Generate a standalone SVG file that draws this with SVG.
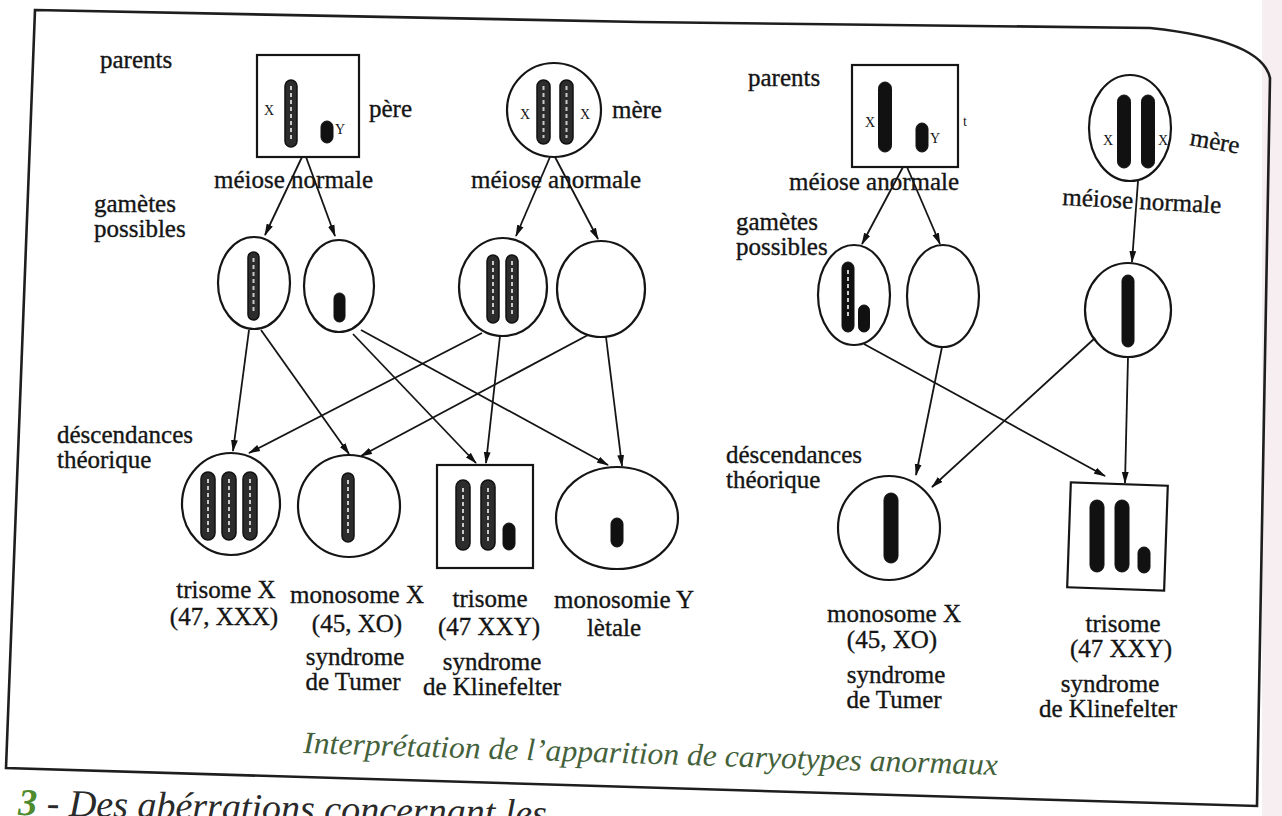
<svg xmlns="http://www.w3.org/2000/svg" width="1282" height="816" viewBox="0 0 1282 816">
  <defs>
    <style>
      .t { font-family: "Liberation Serif", "Times New Roman", serif; font-size: 25px; fill: #151515; stroke: #151515; stroke-width: 0.35; }
      .tm { text-anchor: middle; }
      .lbl { font-family: "Liberation Serif", serif; font-size: 14px; fill: #151515; text-anchor: middle; }
      .cell { fill: none; stroke: #151515; stroke-width: 2.2; }
      .chr { fill: #2c2c2c; stroke: #111; stroke-width: 1.5; }
      .chrS { fill: #111; stroke: #111; stroke-width: 1; }
      .band { stroke: #c9c9c9; stroke-width: 2; stroke-dasharray: 4 3; fill: none; }
      .link { stroke: #151515; stroke-width: 1.8; fill: none; marker-end: url(#ah); }
      .frame { fill: none; stroke: #1e1e1e; stroke-width: 2.6; }
      .caption { font-family: "Liberation Serif", serif; font-style: italic; font-size: 31px; fill: #43613a; }
    </style>
    <marker id="ah" viewBox="0 0 12 8" refX="11" refY="4" markerWidth="12" markerHeight="8" markerUnits="userSpaceOnUse" orient="auto">
      <path d="M0,0.6 L12,4 L0,7.4 z" fill="#111"/>
    </marker>
  </defs>

  <rect width="1282" height="816" fill="#ffffff"/>
  <rect x="1262" y="0" width="20" height="816" fill="#f6eef1"/>

  <!-- page frame -->
  <path class="frame" d="M35,10 L640,22 L1150,28 Q1262,40 1270,78 L1257,806 L6,768 Z"/>

  <!-- ===== left panel: abnormal meiosis in the mother ===== -->
  <text class="t" x="100" y="68">parents</text>
  <text class="t" x="94" y="212">gamètes</text>
  <text class="t" x="94" y="237">possibles</text>
  <text class="t" x="57" y="443">déscendances</text>
  <text class="t" x="57" y="468">théorique</text>

  <g id="pere-gauche">
    <rect class="cell" x="257" y="55" width="102" height="102"/>
    <rect class="chr" x="285" y="80" width="12" height="67" rx="6"/>
    <line class="band" x1="291" y1="86" x2="291" y2="141"/>
    <rect class="chrS" x="321" y="121" width="12" height="22" rx="6"/>
    <text class="lbl" x="269" y="115">X</text>
    <text class="lbl" x="340" y="134">Y</text>
    <text class="t" x="369" y="117">père</text>
  </g>

  <g id="mere-gauche">
    <circle class="cell" cx="554" cy="110" r="47"/>
    <rect class="chr" x="537" y="80" width="13" height="64" rx="6.5"/>
    <line class="band" x1="543.5" y1="86" x2="543.5" y2="138"/>
    <rect class="chr" x="560" y="80" width="13" height="64" rx="6.5"/>
    <line class="band" x1="566.5" y1="86" x2="566.5" y2="138"/>
    <text class="lbl" x="525" y="119">X</text>
    <text class="lbl" x="585" y="119">X</text>
    <text class="t" x="612" y="118">mère</text>
  </g>

  <text class="t" x="214" y="188">méiose normale</text>
  <text class="t" x="471" y="188">méiose anormale</text>

  <g id="gamete-x">
    <ellipse class="cell" cx="254" cy="283" rx="36" ry="46"/>
    <rect class="chr" x="248" y="252" width="11" height="68" rx="5.5"/>
    <line class="band" x1="253.5" y1="258" x2="253.5" y2="314"/>
  </g>
  <g id="gamete-y">
    <ellipse class="cell" cx="339" cy="286" rx="35" ry="46"/>
    <rect class="chrS" x="334" y="293" width="11" height="29" rx="5.5"/>
  </g>
  <g id="gamete-xx">
    <ellipse class="cell" cx="503" cy="287" rx="44" ry="49"/>
    <rect class="chr" x="487" y="255" width="12" height="68" rx="6"/>
    <line class="band" x1="493" y1="261" x2="493" y2="317"/>
    <rect class="chr" x="506" y="255" width="12" height="68" rx="6"/>
    <line class="band" x1="512" y1="261" x2="512" y2="317"/>
  </g>
  <g id="gamete-vide">
    <ellipse class="cell" cx="601" cy="289" rx="44" ry="48"/>
  </g>

  <g id="desc-xxx">
    <ellipse class="cell" cx="231" cy="504" rx="49" ry="51"/>
    <rect class="chr" x="201" y="472" width="14" height="68" rx="7"/>
    <line class="band" x1="208" y1="479" x2="208" y2="533"/>
    <rect class="chr" x="222" y="472" width="14" height="68" rx="7"/>
    <line class="band" x1="229" y1="479" x2="229" y2="533"/>
    <rect class="chr" x="243" y="472" width="14" height="68" rx="7"/>
    <line class="band" x1="250" y1="479" x2="250" y2="533"/>
    <text class="t tm" x="226" y="598">trisome X</text>
    <text class="t tm" x="224" y="625">(47, XXX)</text>
  </g>
  <g id="desc-xo">
    <ellipse class="cell" cx="349" cy="506" rx="51" ry="51"/>
    <rect class="chr" x="342" y="473" width="12" height="69" rx="6"/>
    <line class="band" x1="348" y1="480" x2="348" y2="535"/>
    <text class="t tm" x="357" y="603">monosome X</text>
    <text class="t tm" x="357" y="632">(45, XO)</text>
    <text class="t tm" x="355" y="665">syndrome</text>
    <text class="t tm" x="353" y="690">de Tumer</text>
  </g>
  <g id="desc-xxy">
    <rect class="cell" x="437" y="465" width="96" height="103"/>
    <rect class="chr" x="456" y="480" width="14" height="70" rx="7"/>
    <line class="band" x1="463" y1="488" x2="463" y2="542" stroke-dasharray="2 9"/>
    <rect class="chr" x="481" y="480" width="14" height="70" rx="7"/>
    <line class="band" x1="488" y1="488" x2="488" y2="542" stroke-dasharray="2 9"/>
    <rect class="chrS" x="503" y="523" width="12" height="27" rx="6"/>
    <text class="t tm" x="490" y="607">trisome</text>
    <text class="t tm" x="489" y="635">(47 XXY)</text>
    <text class="t tm" x="492" y="670">syndrome</text>
    <text class="t tm" x="492" y="695">de Klinefelter</text>
  </g>
  <g id="desc-y0">
    <ellipse class="cell" cx="617" cy="518" rx="61" ry="51"/>
    <rect class="chrS" x="611" y="518" width="12" height="29" rx="6"/>
    <text class="t tm" x="624" y="608">monosomie Y</text>
    <text class="t tm" x="614" y="636">lètale</text>
  </g>

  <!-- ===== right panel: abnormal meiosis in the father ===== -->
  <text class="t" x="748" y="86">parents</text>
  <text class="t" x="736" y="230">gamètes</text>
  <text class="t" x="736" y="255">possibles</text>
  <text class="t" x="726" y="463">déscendances</text>
  <text class="t" x="726" y="488">théorique</text>

  <g id="pere-droite">
    <rect class="cell" x="852" y="65" width="106" height="102"/>
    <rect class="chrS" x="878.5" y="82" width="13" height="70" rx="6.5"/>
    <rect class="chrS" x="916" y="123" width="12" height="29" rx="6"/>
    <text class="lbl" x="870" y="127">X</text>
    <text class="lbl" x="935" y="143">Y</text>
    <text class="lbl" x="965" y="126">t</text>
  </g>

  <g id="mere-droite">
    <ellipse class="cell" cx="1130" cy="128" rx="41" ry="53"/>
    <rect class="chrS" x="1117.5" y="95" width="13" height="73" rx="6.5"/>
    <rect class="chrS" x="1141.5" y="95" width="13" height="73" rx="6.5"/>
    <text class="lbl" x="1108" y="145">X</text>
    <text class="lbl" x="1163" y="145">X</text>
    <text class="t" x="1189" y="145" font-size="20" transform="rotate(10 1189 145)">mère</text>
  </g>

  <text class="t" x="789" y="190">méiose anormale</text>
  <text class="t" x="1062" y="205" transform="rotate(3 1062 205)">méiose normale</text>

  <g id="gamete-xy">
    <ellipse class="cell" cx="854" cy="295" rx="36" ry="50"/>
    <rect class="chrS" x="842" y="262" width="12" height="70" rx="6"/>
    <line class="band" x1="848" y1="270" x2="848" y2="318" stroke="#8a8a8a" stroke-dasharray="3 4"/>
    <rect class="chrS" x="858.5" y="305" width="11" height="27" rx="5.5"/>
  </g>
  <g id="gamete-vide-droite">
    <ellipse class="cell" cx="943" cy="296" rx="36" ry="51"/>
  </g>
  <g id="gamete-x-droite">
    <ellipse class="cell" cx="1128" cy="310" rx="43" ry="47"/>
    <rect class="chrS" x="1122" y="275" width="12" height="72" rx="6"/>
  </g>

  <g id="desc-xo-droite">
    <ellipse class="cell" cx="889" cy="528" rx="51" ry="52"/>
    <rect class="chrS" x="884" y="493" width="14" height="70" rx="7"/>
    <text class="t tm" x="894" y="622">monosome X</text>
    <text class="t tm" x="892" y="648">(45, XO)</text>
    <text class="t tm" x="896" y="683">syndrome</text>
    <text class="t tm" x="894" y="708">de Tumer</text>
  </g>
  <g id="desc-xxy-droite">
    <rect class="cell" x="1069" y="484" width="97" height="105" transform="rotate(2 1117 536)"/>
    <rect class="chrS" x="1090" y="500" width="14" height="72" rx="7"/>
    <rect class="chrS" x="1115" y="500" width="14" height="72" rx="7"/>
    <rect class="chrS" x="1138" y="547" width="12" height="26" rx="6"/>
    <text class="t tm" x="1123" y="632">trisome</text>
    <text class="t tm" x="1121" y="657">(47 XXY)</text>
    <text class="t tm" x="1110" y="692">syndrome</text>
    <text class="t tm" x="1108" y="717">de Klinefelter</text>
  </g>

  <!-- ===== connectors ===== -->
  <g id="connecteurs">
    <!-- left: meiosis -->
    <line class="link" x1="302" y1="157" x2="265" y2="235"/>
    <line class="link" x1="306" y1="157" x2="335" y2="236"/>
    <line class="link" x1="550" y1="157" x2="516" y2="236"/>
    <line class="link" x1="555" y1="157" x2="598" y2="239"/>
    <!-- left: fertilisation -->
    <line class="link" x1="249" y1="330" x2="233" y2="451"/>
    <line class="link" x1="261" y1="330" x2="349" y2="454"/>
    <line class="link" x1="353" y1="334" x2="476" y2="463"/>
    <line class="link" x1="361" y1="330" x2="608" y2="465"/>
    <line class="link" x1="482" y1="333" x2="249" y2="453"/>
    <line class="link" x1="500" y1="336" x2="486" y2="463"/>
    <line class="link" x1="588" y1="335" x2="361" y2="456"/>
    <line class="link" x1="606" y1="337" x2="622" y2="466"/>
    <!-- right: meiosis -->
    <line class="link" x1="903" y1="167" x2="862" y2="244"/>
    <line class="link" x1="907" y1="167" x2="940" y2="244"/>
    <line class="link" x1="1138" y1="181" x2="1132" y2="262"/>
    <!-- right: fertilisation -->
    <line class="link" x1="864" y1="344" x2="1105" y2="476"/>
    <line class="link" x1="942" y1="347" x2="916" y2="475"/>
    <line class="link" x1="1095" y1="338" x2="932" y2="487"/>
    <line class="link" x1="1128" y1="357" x2="1125" y2="483"/>
  </g>

  <!-- captions -->
  <text class="caption" x="303" y="753" textLength="695" lengthAdjust="spacingAndGlyphs" transform="rotate(1.8 303 753)">Interprétation de l’apparition de caryotypes anormaux</text>
  <text x="18" y="815" font-family="Liberation Serif, serif" font-style="italic" font-size="38" fill="#2a2a2a" transform="rotate(1.2 18 815)"><tspan fill="#4e8a2e" font-weight="bold">3</tspan> - Des abérrations concernant les</text>
</svg>
